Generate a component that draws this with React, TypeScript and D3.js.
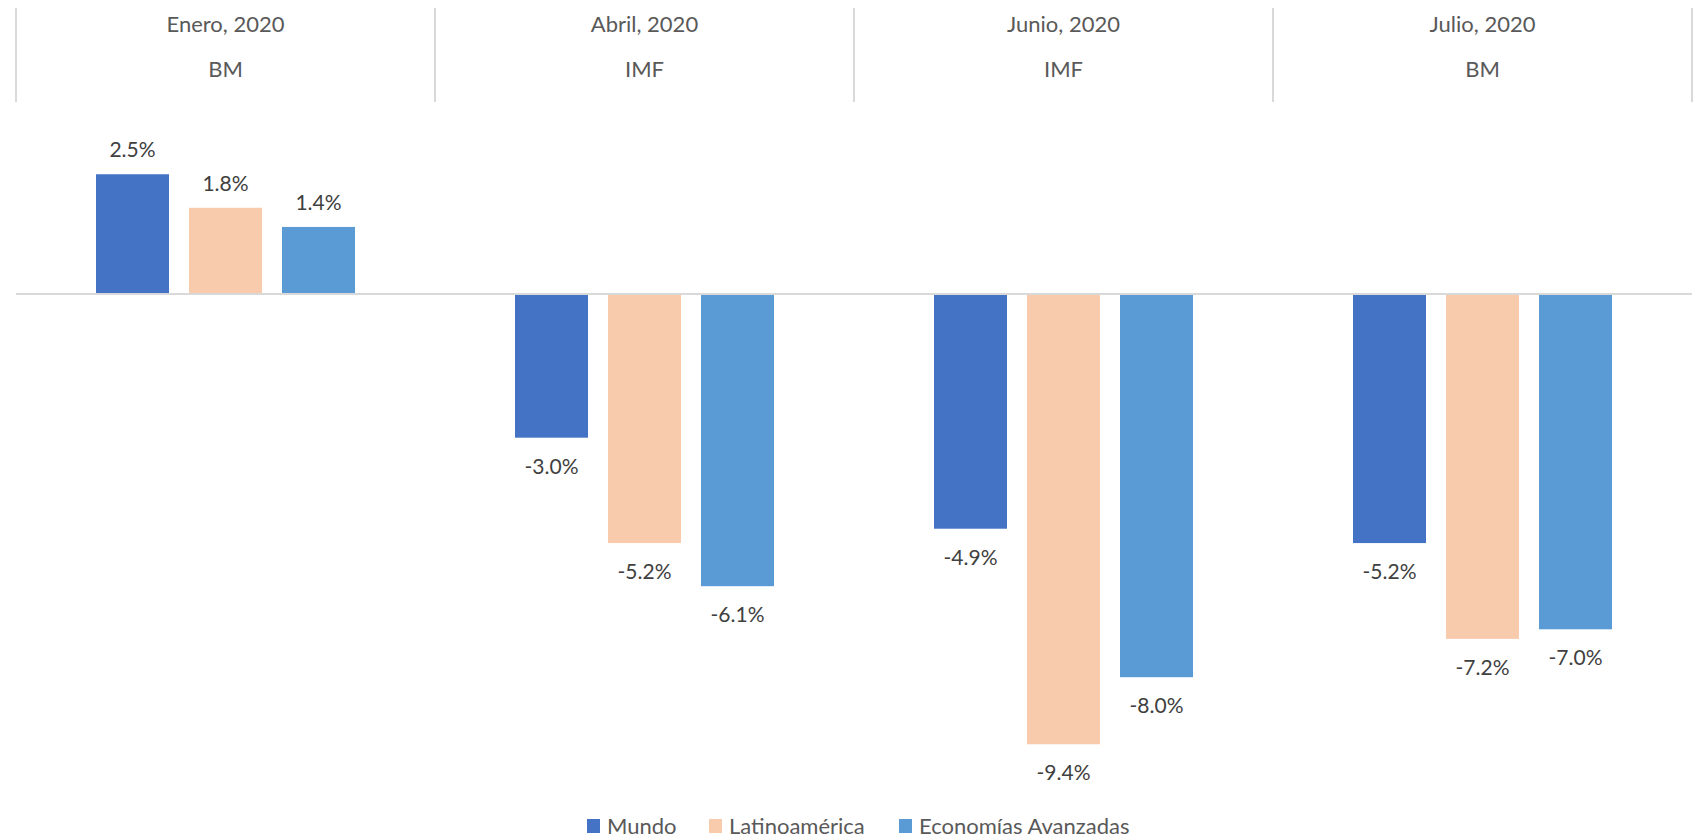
import React from "react";
import * as d3 from "d3";

const categories = ["Enero, 2020", "Abril, 2020", "Junio, 2020", "Julio, 2020"];
const sources = ["BM", "IMF", "IMF", "BM"];
const seriesNames = ["Mundo", "Latinoamérica", "Economías Avanzadas"];
const mundo = [2.5, -3.0, -4.9, -5.2];
const latam = [1.8, -5.2, -9.4, -7.2];
const avanzadas = [1.4, -6.1, -8.0, -7.0];
const colors = ["#4472C4", "#F8CBAD", "#5B9BD5"];

const W = 1693;
const H = 838;
const FONT = "Lato, 'Noto Sans', sans-serif";

export default function App() {
  const series = [mundo, latam, avanzadas];
  const x0 = d3.scaleBand<string>().domain(categories).range([16, 1692]).padding(0);
  const bw = x0.bandwidth();
  const x1 = d3
    .scaleBand<string>()
    .domain(seriesNames)
    .range([bw / 2 - 139.5, bw / 2 + 139.5])
    .paddingInner(0.215)
    .paddingOuter(0.1075);
  const y = d3.scaleLinear().domain([-10, 3]).range([294 + 10 * 47.9, 294 - 3 * 47.9]);
  const fmt = (v: number) => d3.format(".1f")(v).replace("−", "-") + "%";

  const legendX = [587, 709, 899];

  return (
    <svg width={W} height={H} style={{ position: "absolute", left: 0, top: 0 }}>
      <rect width={W} height={H} fill="#fff" />
      {categories.map((c, i) => (
        <line key={"d" + i} x1={x0(c)!} x2={x0(c)!} y1={8} y2={102} stroke="#D9D9D9" strokeWidth={2} />
      ))}
      <line x1={1692} x2={1692} y1={8} y2={102} stroke="#D9D9D9" strokeWidth={2} />
      {categories.map((c, i) => (
        <g key={"h" + i} fontFamily={FONT} fill="#595959" textAnchor="middle">
          <text x={x0(c)! + bw / 2} y={32} fontSize={22}>{c}</text>
          <text x={x0(c)! + bw / 2} y={77} fontSize={22}>{sources[i]}</text>
        </g>
      ))}
      {categories.map((c, i) => (
        <g key={"g" + i} transform={`translate(${x0(c)},0)`}>
          {seriesNames.map((s, j) => {
            const v = series[j][i];
            const top = v >= 0 ? y(v) : y(0) + 1;
            const bottom = v >= 0 ? y(0) - 1 : y(v);
            return (
              <g key={s}>
                <rect x={x1(s)!} y={top} width={x1.bandwidth()} height={bottom - top} fill={colors[j]} />
                <text
                  x={x1(s)! + x1.bandwidth() / 2}
                  y={v >= 0 ? top - 17 : bottom + 36}
                  textAnchor="middle"
                  fontFamily={FONT}
                  fontSize={21}
                  fill="#404040"
                >
                  {fmt(v)}
                </text>
              </g>
            );
          })}
        </g>
      ))}
      <line x1={16} x2={1692} y1={y(0)} y2={y(0)} stroke="#D9D9D9" strokeWidth={2} />
      {seriesNames.map((s, j) => (
        <g key={"l" + j}>
          <rect x={legendX[j]} y={819} width={13} height={14} fill={colors[j]} />
          <text x={legendX[j] + 20} y={834} fontFamily={FONT} fontSize={22} fill="#595959">
            {s}
          </text>
        </g>
      ))}
    </svg>
  );
}
